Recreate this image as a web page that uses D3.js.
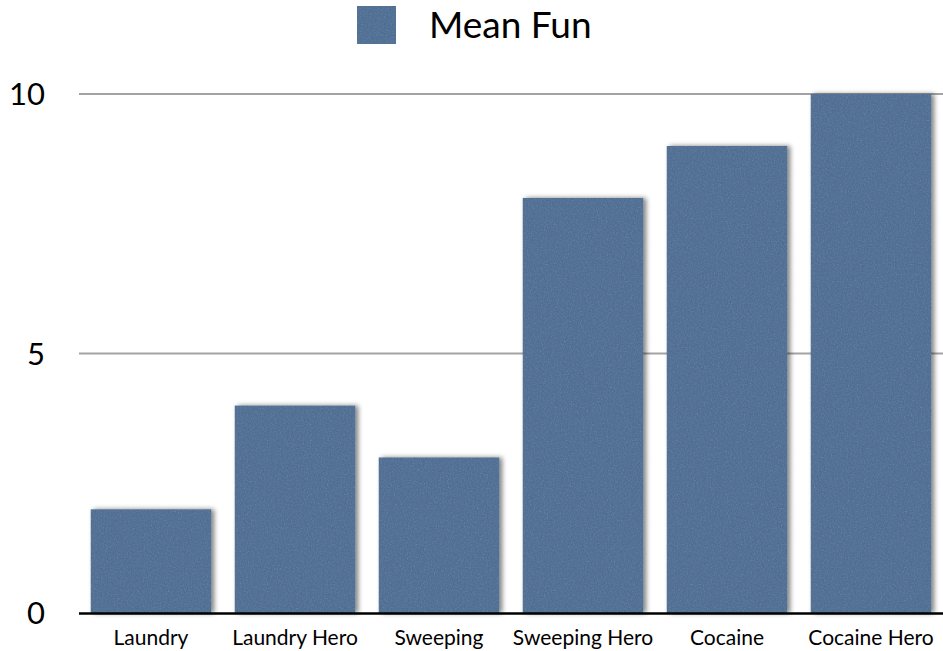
<!DOCTYPE html>
<html>
<head>
<meta charset="utf-8">
<script src="https://cdn.jsdelivr.net/npm/d3@7"></script>
<style>
  html, body { margin: 0; padding: 0; background: #fff; }
  svg { display: block; font-family: "Lato", "Open Sans", sans-serif; }
</style>
</head>
<body>
<svg id="chart" width="943" height="651"></svg>
<script>
// Chart data
const categories = ["Laundry", "Laundry Hero", "Sweeping", "Sweeping Hero", "Cocaine", "Cocaine Hero"];
const meanFun = [2, 4, 3, 8, 9, 10];
const yTicks = [0, 5, 10];
const seriesName = "Mean Fun";

const svg = d3.select("#chart");
const plot = { left: 79, right: 943, top: 94, bottom: 613 };
const barColor = "#5a789c";

// Filters: paper-like grain for the bars and a soft drop shadow
const defs = svg.append("defs");
const grain = defs.append("filter").attr("id", "grain")
  .attr("x", "0").attr("y", "0").attr("width", "1").attr("height", "1")
  .attr("color-interpolation-filters", "sRGB");
grain.append("feTurbulence").attr("type", "fractalNoise").attr("baseFrequency", 0.7)
  .attr("numOctaves", 3).attr("seed", 7).attr("result", "noise");
grain.append("feColorMatrix").attr("in", "noise").attr("type", "saturate")
  .attr("values", 0).attr("result", "gray");
grain.append("feComposite").attr("in", "gray").attr("in2", "SourceGraphic")
  .attr("operator", "arithmetic")
  .attr("k1", 0).attr("k2", 0.2).attr("k3", 1).attr("k4", -0.075)
  .attr("result", "mixed");
grain.append("feComposite").attr("in", "mixed").attr("in2", "SourceGraphic").attr("operator", "in");

const shadow = defs.append("filter").attr("id", "shadow")
  .attr("x", "-10%").attr("y", "-10%").attr("width", "125%").attr("height", "125%");
shadow.append("feGaussianBlur").attr("in", "SourceAlpha").attr("stdDeviation", 2.5).attr("result", "blur");
shadow.append("feOffset").attr("in", "blur").attr("dx", 2.5).attr("dy", 0).attr("result", "off");
shadow.append("feComponentTransfer").attr("in", "off").attr("result", "soft")
  .append("feFuncA").attr("type", "linear").attr("slope", 0.5);
const merge = shadow.append("feMerge");
merge.append("feMergeNode").attr("in", "soft");
merge.append("feMergeNode").attr("in", "SourceGraphic");

// Scales
const x = d3.scaleBand().domain(categories).range([plot.left, plot.right])
  .paddingInner(0.16).paddingOuter(0.08);
const y = d3.scaleLinear().domain([0, 10]).range([plot.bottom, plot.top]);

// Gridlines behind the bars
svg.append("g").selectAll("line").data(yTicks.filter(d => d > 0)).join("line")
  .attr("x1", plot.left).attr("x2", plot.right)
  .attr("y1", d => y(d)).attr("y2", d => y(d))
  .attr("stroke", "#a3a3a3").attr("stroke-width", 2);

// Y tick labels
svg.append("g").selectAll("text").data(yTicks).join("text")
  .attr("x", 45).attr("y", d => y(d))
  .attr("dy", "0.36em")
  .attr("text-anchor", "end")
  .attr("font-size", 31)
  .attr("fill", "#000")
  .text(d => d);

// Bars
const bars = svg.append("g");
bars.selectAll("g").data(meanFun).join("g")
  .attr("filter", "url(#shadow)")
  .append("rect")
  .attr("x", (d, i) => x(categories[i]))
  .attr("width", x.bandwidth())
  .attr("y", d => y(d))
  .attr("height", d => y(0) - y(d))
  .attr("fill", barColor)
  .attr("filter", "url(#grain)");

// Baseline
svg.append("line")
  .attr("x1", plot.left).attr("x2", plot.right)
  .attr("y1", y(0) + 0.5).attr("y2", y(0) + 0.5)
  .attr("stroke", "#000").attr("stroke-width", 2.5);

// Category labels
svg.append("g").selectAll("text").data(categories).join("text")
  .attr("x", d => x(d) + x.bandwidth() / 2)
  .attr("y", 645)
  .attr("text-anchor", "middle")
  .attr("font-size", 21)
  .attr("fill", "#000")
  .text(d => d);

// Legend
const legend = svg.append("g");
legend.append("rect")
  .attr("x", 357).attr("y", 6).attr("width", 39).attr("height", 38)
  .attr("fill", barColor).attr("filter", "url(#grain)");
legend.append("text")
  .attr("x", 429).attr("y", 38)
  .attr("font-size", 37)
  .attr("fill", "#000")
  .text(seriesName);
</script>
</body>
</html>
